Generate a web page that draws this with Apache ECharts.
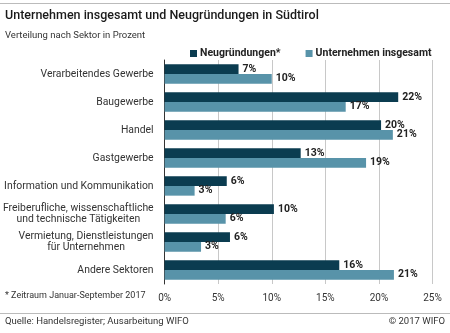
<!DOCTYPE html>
<html>
<head>
<meta charset="utf-8">
<script src="https://cdn.jsdelivr.net/npm/echarts@6/dist/echarts.min.js"></script>
<style>
  html, body { margin: 0; padding: 0; background: #fff; }
  #chart { width: 450px; height: 333px; }
</style>
</head>
<body>
<div id="chart"></div>
<script>
// Sectors, top to bottom
const categories = [
  'Verarbeitendes Gewerbe',
  'Baugewerbe',
  'Handel',
  'Gastgewerbe',
  'Information und Kommunikation',
  'Freiberufliche, wissenschaftliche\nund technische Tätigkeiten',
  'Vermietung, Dienstleistungen\nfür Unternehmen',
  'Andere Sektoren'
];
// Share of new businesses (Jan–Sep 2017), percent
const neugruendungen = [6.9, 21.8, 20.2, 12.7, 5.8, 10.2, 6.1, 16.3];
// Share of all businesses, percent
const unternehmen = [10.0, 16.9, 21.3, 18.8, 2.8, 5.7, 3.4, 21.4];
// Value axis ticks
const xTicks = [0, 5, 10, 15, 20, 25];

const FONT = 'Roboto, "Noto Sans", sans-serif';
const DARK = '#0b3c50';
const LIGHT = '#5893a9';

const chart = echarts.init(document.getElementById('chart'));

const valueLabel = {
  show: true,
  position: 'right',
  distance: 4,
  fontFamily: FONT,
  fontSize: 10.5,
  fontWeight: 'bold',
  color: '#222',
  formatter: p => Math.round(p.value) + '%'
};

chart.setOption({
  animation: false,
  textStyle: { fontFamily: FONT },
  legend: {
    left: 185,
    top: 43,
    icon: 'rect',
    itemWidth: 7,
    itemHeight: 7,
    itemGap: 25,
    textStyle: { fontFamily: FONT, fontSize: 10.5, fontWeight: 'bold', color: '#222', padding: [0, 0, 0, -2] },
    data: ['Neugründungen*', 'Unternehmen insgesamt']
  },
  grid: { left: 163, right: 17.5, top: 60, bottom: 49, containLabel: false },
  xAxis: {
    type: 'value',
    min: xTicks[0],
    max: xTicks[xTicks.length - 1],
    interval: xTicks[1] - xTicks[0],
    axisLine: { show: false },
    axisTick: { show: false },
    splitLine: { lineStyle: { color: '#c8c8c8', width: 1 } },
    axisLabel: {
      margin: 9,
      fontFamily: FONT,
      fontSize: 10,
      color: '#333',
      formatter: '{value}%'
    }
  },
  yAxis: {
    type: 'category',
    inverse: true,
    data: categories,
    axisLine: { show: true, lineStyle: { color: '#333', width: 1 } },
    axisTick: { show: false },
    axisLabel: {
      margin: 11,
      fontFamily: FONT,
      fontSize: 10.4,
      color: '#333',
      lineHeight: 11,
      formatter: v => v.split('\n').map(s => '{c|' + s + '}').join('\n'),
      rich: {
        c: { align: 'center', fontFamily: FONT, fontSize: 10.4, color: '#333', lineHeight: 11 }
      }
    }
  },
  series: [
    {
      name: 'Neugründungen*',
      type: 'bar',
      data: neugruendungen,
      itemStyle: { color: DARK },
      barGap: '0%',
      barCategoryGap: '31%',
      label: valueLabel
    },
    {
      name: 'Unternehmen insgesamt',
      type: 'bar',
      data: unternehmen,
      itemStyle: { color: LIGHT },
      barGap: '0%',
      barCategoryGap: '31%',
      label: valueLabel
    }
  ],
  graphic: [
    { type: 'line', shape: { x1: 0, y1: 3.5, x2: 450, y2: 3.5 }, style: { stroke: '#bbb', lineWidth: 1 } },
    { type: 'text', left: 5, top: 9, style: { text: 'Unternehmen insgesamt und Neugründungen in Südtirol', fontFamily: FONT, fontSize: 12.5, fontWeight: 500, fill: '#1a1a1a' } },
    { type: 'text', left: 5, top: 31, style: { text: 'Verteilung nach Sektor in Prozent', fontFamily: FONT, fontSize: 9.5, fill: '#333' } },
    { type: 'text', left: 5, top: 291, style: { text: '* Zeitraum Januar-September 2017', fontFamily: FONT, fontSize: 9, fill: '#333' } },
    { type: 'line', shape: { x1: 0, y1: 313.5, x2: 450, y2: 313.5 }, style: { stroke: '#bbb', lineWidth: 1 } },
    { type: 'text', left: 5, top: 317, style: { text: 'Quelle: Handelsregister; Ausarbeitung WIFO', fontFamily: FONT, fontSize: 9.5, fill: '#333' } },
    { type: 'text', right: 5, top: 317, style: { text: '© 2017 WIFO', fontFamily: FONT, fontSize: 9.5, fill: '#333' } }
  ]
});
</script>
</body>
</html>
